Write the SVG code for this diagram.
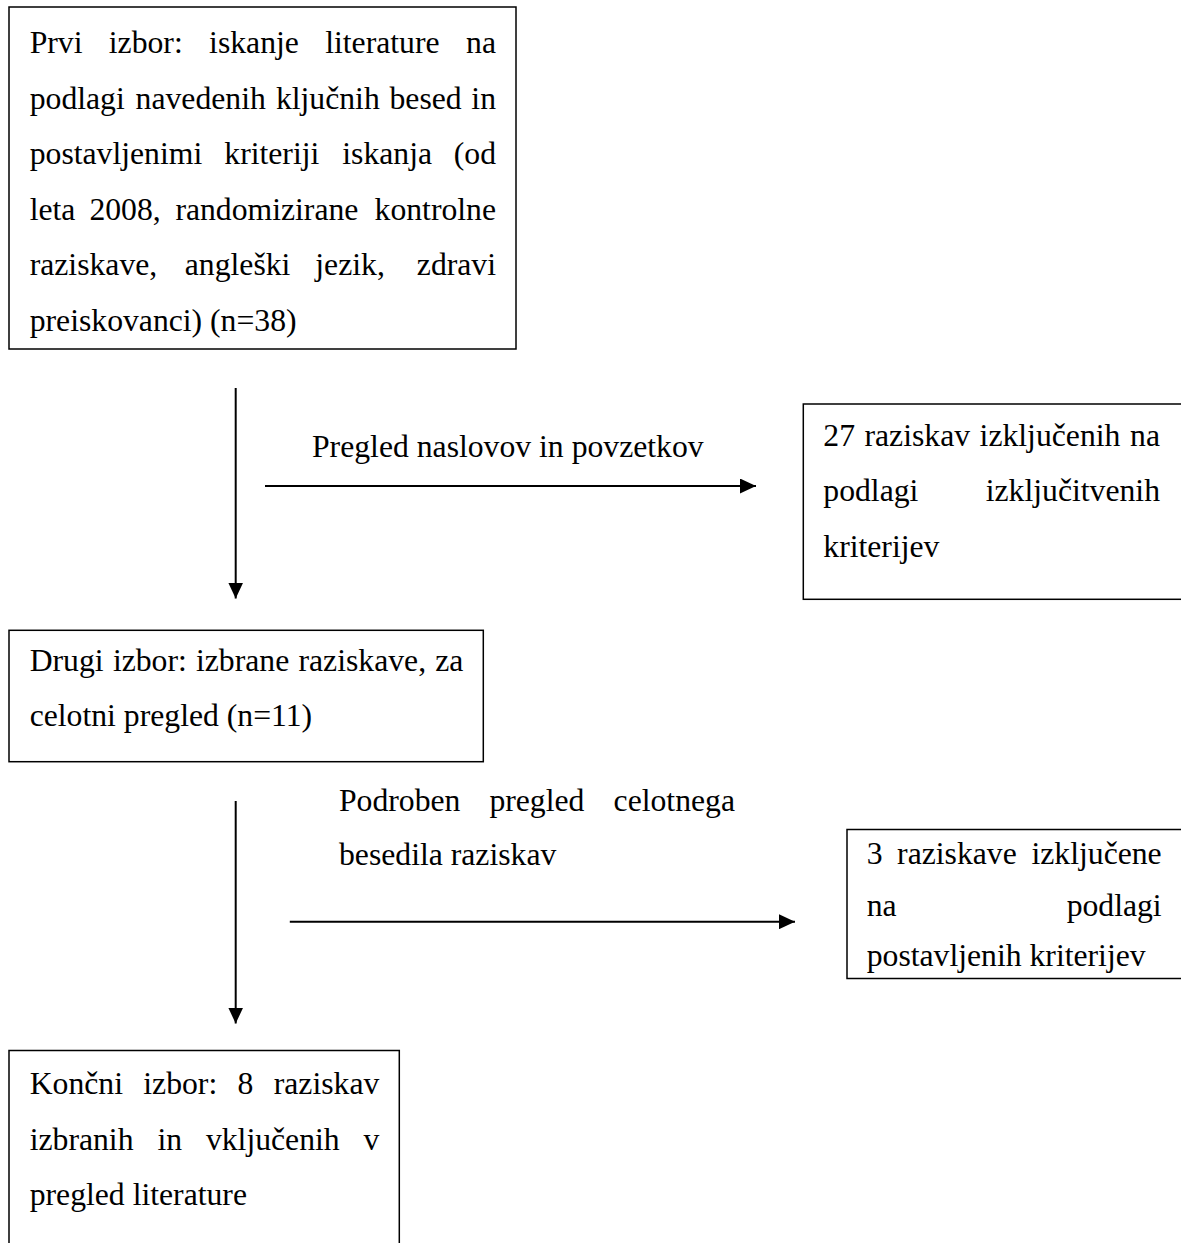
<svg xmlns="http://www.w3.org/2000/svg" width="1181" height="1243" viewBox="0 0 1181 1243">
<style>
.box{fill:#fff;stroke:#000;stroke-width:1.5}
.t{font-family:'Liberation Serif','Times New Roman',serif;font-size:31.7px;fill:#000}
.e{text-anchor:end}
.c{stroke:#000;stroke-width:2;fill:none}
</style>
<defs>
<marker id="ah" markerUnits="userSpaceOnUse" markerWidth="16" markerHeight="15" refX="16" refY="7.5" orient="auto">
<path d="M0,0 L16,7.5 L0,15 z" fill="#000"/>
</marker>
</defs>
<rect width="1181" height="1243" fill="#fff"/>
<g id="n1">
<rect class="box" x="9" y="7" width="507" height="342"/>
<text class="t" y="53"><tspan x="29.7">Prvi</tspan><tspan x="108.8">izbor:</tspan><tspan x="209.1">iskanje</tspan><tspan x="325.2">literature</tspan><tspan class="e" x="496">na</tspan></text>
<text class="t" y="108.5"><tspan x="29.7">podlagi</tspan><tspan x="135.6">navedenih</tspan><tspan x="275.9">ključnih</tspan><tspan x="389.5">besed</tspan><tspan class="e" x="496">in</tspan></text>
<text class="t" y="164"><tspan x="29.7">postavljenimi</tspan><tspan x="224.3">kriteriji</tspan><tspan x="342.3">iskanja</tspan><tspan class="e" x="496">(od</tspan></text>
<text class="t" y="219.5"><tspan x="29.7">leta</tspan><tspan x="89.4">2008,</tspan><tspan x="175.4">randomizirane</tspan><tspan class="e" x="496">kontrolne</tspan></text>
<text class="t" y="275"><tspan x="29.7">raziskave,</tspan><tspan x="184.8">angleški</tspan><tspan x="315.3">jezik,</tspan><tspan class="e" x="496">zdravi</tspan></text>
<text class="t" x="29.7" y="330.5">preiskovanci) (n=38)</text>
</g>
<g id="n2">
<rect class="box" x="803.3" y="404" width="390" height="195.3"/>
<text class="t" y="446"><tspan x="823.3">27</tspan><tspan x="864.5">raziskav</tspan><tspan x="979.6">izključenih</tspan><tspan class="e" x="1160">na</tspan></text>
<text class="t" y="501"><tspan x="823.3">podlagi</tspan><tspan class="e" x="1160">izključitvenih</tspan></text>
<text class="t" x="823.3" y="556.5">kriterijev</text>
</g>
<g id="n3">
<rect class="box" x="9" y="630.3" width="474.3" height="131.4"/>
<text class="t" y="671"><tspan x="29.7">Drugi</tspan><tspan x="112.9">izbor:</tspan><tspan x="196">izbrane</tspan><tspan x="298.5">raziskave,</tspan><tspan class="e" x="463.3">za</tspan></text>
<text class="t" x="29.7" y="726">celotni pregled (n=11)</text>
</g>
<g id="n4">
<rect class="box" x="847" y="829.5" width="350" height="149"/>
<text class="t" y="864"><tspan x="866.7">3</tspan><tspan x="897.1">raziskave</tspan><tspan class="e" x="1161.7">izključene</tspan></text>
<text class="t" y="915.5"><tspan x="866.7">na</tspan><tspan class="e" x="1161.7">podlagi</tspan></text>
<text class="t" x="866.7" y="966">postavljenih kriterijev</text>
</g>
<g id="n5">
<rect class="box" x="9" y="1050.5" width="390.3" height="210"/>
<text class="t" y="1094"><tspan x="29.7">Končni</tspan><tspan x="143.3">izbor:</tspan><tspan x="237.6">8</tspan><tspan class="e" x="379.3">raziskav</tspan></text>
<text class="t" y="1149.5"><tspan x="29.7">izbranih</tspan><tspan x="157.4">in</tspan><tspan x="205.9">vključenih</tspan><tspan class="e" x="379.3">v</tspan></text>
<text class="t" x="29.7" y="1205">pregled literature</text>
</g>
<g id="connectors">
<line class="c" x1="235.7" y1="388" x2="235.7" y2="598.5" marker-end="url(#ah)"/>
<line class="c" x1="265" y1="486" x2="756" y2="486" marker-end="url(#ah)"/>
<text class="t" x="312" y="457">Pregled naslovov in povzetkov</text>
<line class="c" x1="235.7" y1="801" x2="235.7" y2="1023.5" marker-end="url(#ah)"/>
<line class="c" x1="289.8" y1="921.7" x2="795" y2="921.7" marker-end="url(#ah)"/>
<text class="t" y="811"><tspan x="339">Podroben</tspan><tspan x="489.4">pregled</tspan><tspan class="e" x="735">celotnega</tspan></text>
<text class="t" x="339" y="865">besedila raziskav</text>
</g>
</svg>
